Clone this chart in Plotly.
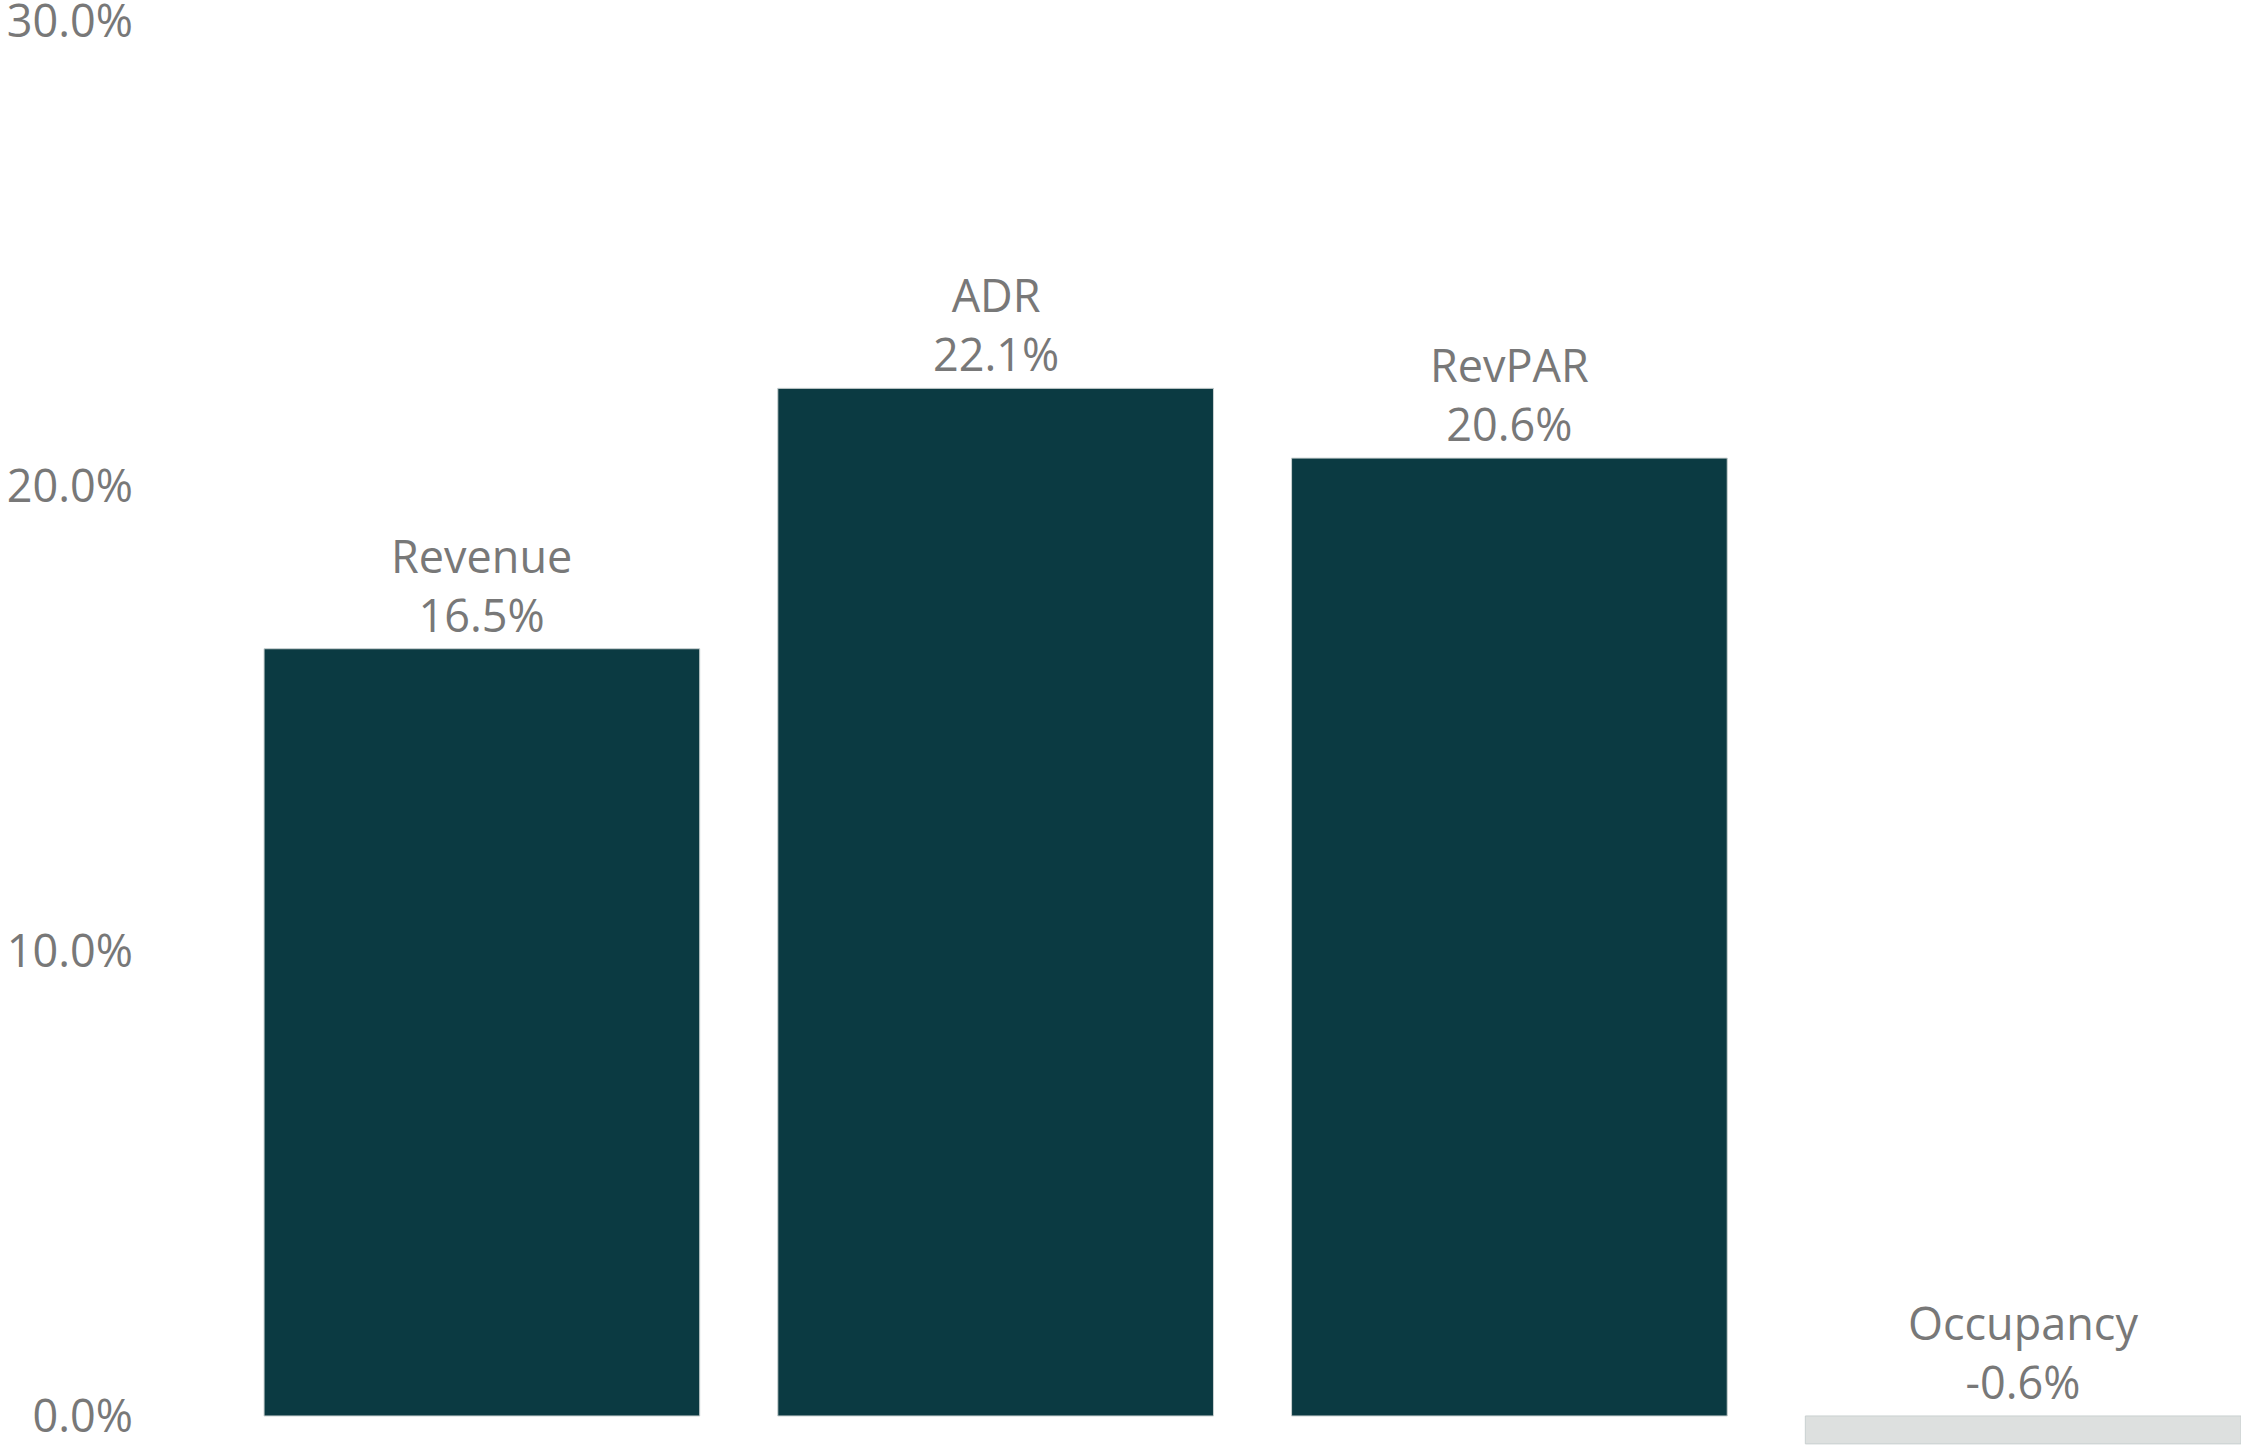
import plotly.graph_objects as go

categories = ["Revenue", "ADR", "RevPAR", "Occupancy"]
values = [16.5, 22.1, 20.6, -0.6]
bar_colors = ["#0b3a42", "#0b3a42", "#0b3a42", "#dde0df"]
tick_vals = [0, 10, 20, 30]
tick_text = ["0.0%", "10.0%", "20.0%", "30.0%"]

FONT = "Open Sans"
TXT = "#787878"

fig = go.Figure()
fig.add_trace(go.Bar(
    x=categories, y=values,
    marker=dict(color=bar_colors, line=dict(color="#c9d0d0", width=1)),
    hoverinfo="skip",
))

for c, v in zip(categories, values):
    fig.add_annotation(
        x=c, y=max(v, 0), xref="x", yref="y",
        text=f"{c}<br>{v:.1f}%",
        showarrow=False, yanchor="bottom", xanchor="center",
        font=dict(family=FONT, size=45, color=TXT),
        yshift=2,
    )

fig.update_layout(
    width=2241, height=1447,
    margin=dict(l=225, r=0, t=21, b=0, pad=0),
    paper_bgcolor="white", plot_bgcolor="white",
    bargap=0.152,
    showlegend=False,
    font=dict(family=FONT, size=45, color=TXT),
    xaxis=dict(showticklabels=False, showgrid=False, zeroline=False,
               showline=False, ticks="", range=[-0.5, 3.424], automargin=False),
    yaxis=dict(range=[-0.667, 30], tickvals=tick_vals, ticktext=tick_text,
               showgrid=False, zeroline=False, showline=False, ticks="",
               ticklabelstandoff=91, ticklabeloverflow="allow", automargin=False,
               tickfont=dict(family=FONT, size=45, color=TXT)),
)

fig.write_html("out.html")
